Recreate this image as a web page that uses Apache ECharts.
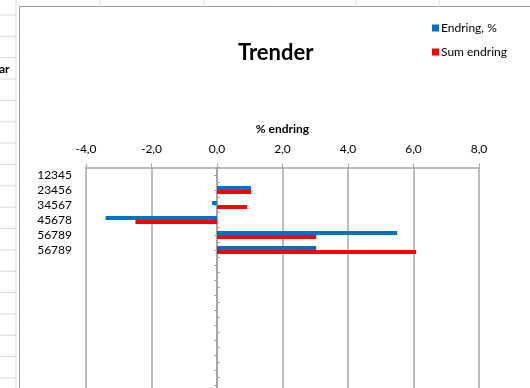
<!DOCTYPE html>
<html>
<head>
<meta charset="utf-8">
<script src="https://cdn.jsdelivr.net/npm/echarts@6/dist/echarts.min.js"></script>
<style>
  html, body { margin: 0; padding: 0; background: #fff; }
  #trender { width: 530px; height: 388px; }
</style>
</head>
<body>
<div id="trender"></div>
<script>
  // verdier lest av bildet
  const categories = ['12345', '23456', '34567', '45678', '56789', '56789']
  const endring = [null, 1.04, -0.15, -3.40, 5.50, 3.03]
  const sumEndring = [null, 1.04, 0.92, -2.49, 3.03, 6.08]
  const xTicks = {min: -4, max: 8, interval: 2}
  const blankRows = 14

  const fontFamily = 'Lato, "Open Sans", sans-serif'
  const gridGray = '#a6a6a6'
  const cellGray = '#dcdcdc'

  let yData = categories.slice()
  for (let i = 0; i < blankRows; i++) {
    yData.push('')
  }

  // regnearket bak diagrammet
  let sheet = []
  for (let y = 15; y < 388; y += 21.35) {
    sheet.push({type: 'line', shape: {x1: 0, y1: y, x2: 17, y2: y}, style: {stroke: cellGray, lineWidth: 1}})
  }
  sheet.push({type: 'line', shape: {x1: 16, y1: 0, x2: 16, y2: 388}, style: {stroke: cellGray, lineWidth: 1}})
  ;[100, 204, 356, 439].forEach(function (x) {
    sheet.push({type: 'line', shape: {x1: x, y1: 0, x2: x, y2: 7}, style: {stroke: cellGray, lineWidth: 1}})
  })
  sheet.push({type: 'text', left: -1, top: 63, style: {text: 'ar', font: 'bold 12px ' + fontFamily, fill: '#000'}})
  sheet.push({
    type: 'rect',
    shape: {x: 19.5, y: 6.5, width: 520, height: 400},
    style: {fill: '#fff', stroke: '#9a9a9a', lineWidth: 1},
    z: -1
  })

  let option = {
    animation: false,
    backgroundColor: '#fff',
    title: {
      text: 'Trender',
      left: 233,
      top: 37,
      textStyle: {fontFamily: fontFamily, fontSize: 22, fontWeight: 'bold', color: '#000'}
    },
    legend: {
      orient: 'vertical',
      left: 427,
      top: 17,
      itemWidth: 7,
      itemHeight: 7,
      itemGap: 12,
      icon: 'rect',
      textStyle: {fontFamily: fontFamily, fontSize: 12, color: '#000', padding: [0, 0, 0, -3]}
    },
    graphic: sheet,
    grid: {left: 86, right: 51, top: 167.5, height: 300, containLabel: false, outerBoundsMode: 'none'},
    xAxis: {
      type: 'value',
      position: 'top',
      min: xTicks.min,
      max: xTicks.max,
      interval: xTicks.interval,
      name: '% endring',
      nameLocation: 'middle',
      nameGap: 32,
      nameTextStyle: {fontFamily: fontFamily, fontSize: 12, fontWeight: 'bold', color: '#000'},
      axisLine: {show: true, lineStyle: {color: gridGray, width: 1.5}},
      axisTick: {show: true, length: 4, lineStyle: {color: gridGray}},
      axisLabel: {
        margin: 12,
        fontFamily: fontFamily,
        fontSize: 12,
        color: '#000',
        formatter: function (v) { return v.toFixed(1).replace('.', ',') }
      },
      splitLine: {show: true, lineStyle: {color: gridGray, width: 1.5}}
    },
    yAxis: [
      {
        type: 'category',
        inverse: true,
        data: yData,
        axisLine: {onZero: true, onZeroAxisIndex: 0, lineStyle: {color: gridGray, width: 1.5}},
        axisTick: {show: true, alignWithLabel: true, length: 3, lineStyle: {color: gridGray}},
        axisLabel: {margin: 14, fontFamily: fontFamily, fontSize: 12, color: '#000', interval: 0}
      },
      {
        type: 'category',
        inverse: true,
        position: 'left',
        data: yData,
        axisLine: {onZero: true, onZeroAxisIndex: 0, lineStyle: {color: gridGray, width: 1.5}},
        axisTick: {show: true, inside: true, length: 3, interval: 0, lineStyle: {color: gridGray}},
        axisLabel: {show: false}
      }
    ],
    series: [
      {
        name: 'Endring, %',
        type: 'bar',
        data: endring,
        barWidth: 4,
        barGap: '0%',
        itemStyle: {color: '#0070c0'}
      },
      {
        name: 'Sum endring',
        type: 'bar',
        data: sumEndring,
        barWidth: 4,
        barGap: '0%',
        itemStyle: {color: '#ff0000'}
      }
    ]
  }

  let chart = echarts.init(document.getElementById('trender'))
  chart.setOption(option)
</script>
</body>
</html>
